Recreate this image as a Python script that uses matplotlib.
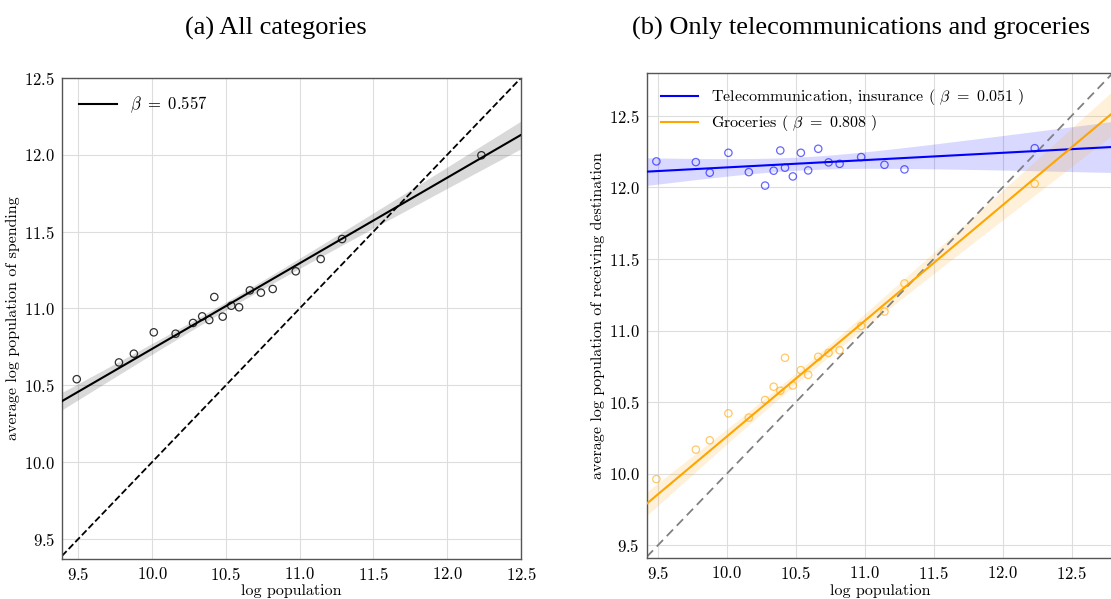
"""
Scaling of spending with population: all categories vs. two selected ones.
"""

import numpy as np
import matplotlib
matplotlib.use('Agg')
import matplotlib.pyplot as plt

plt.rcParams['font.family'] = 'serif'
plt.rcParams['font.serif'] = ['cmr10']
plt.rcParams['mathtext.fontset'] = 'cm'
plt.rcParams['axes.formatter.use_mathtext'] = True

# log population of the cities (same for both panels)
log_pop = [9.49, 9.776, 9.877, 10.012, 10.16, 10.278, 10.34, 10.388, 10.422, 10.479,
           10.537, 10.59, 10.663, 10.738, 10.818, 10.974, 11.143, 11.288, 12.232]

# (a) average log population of spending, all categories
all_cat = [10.54, 10.649, 10.706, 10.845, 10.836, 10.906, 10.949, 10.925, 11.075, 10.947,
           11.018, 11.008, 11.118, 11.103, 11.127, 11.242, 11.322, 11.452, 11.997]

# (b) telecommunication / insurance and groceries
telecom = [12.181, 12.176, 12.102, 12.241, 12.106, 12.012, 12.116, 12.257, 12.137, 12.076,
           12.241, 12.118, 12.269, 12.174, 12.164, 12.211, 12.157, 12.125, 12.273]
groceries = [9.963, 10.169, 10.234, 10.422, 10.392, 10.515, 10.608, 10.58, 10.81, 10.617,
             10.724, 10.691, 10.817, 10.844, 10.863, 11.032, 11.133, 11.329, 12.025]

# fitted scaling exponents (beta) and intercepts as shown in the figure
beta_all, icpt_all = 0.557, 5.167
beta_tel, icpt_tel = 0.051, 11.629
beta_gro, icpt_gro = 0.808, 2.18

ticks = [9.5, 10.0, 10.5, 11.0, 11.5, 12.0, 12.5]

fig = plt.figure(figsize=(11.11, 5.99), dpi=100)
ax1 = fig.add_axes([0.0558, 0.0668, 0.4131, 0.8030])
ax2 = fig.add_axes([0.5821, 0.0679, 0.4198, 0.8107])


def style_axes(ax):
    ax.grid(True, color='#dddddd', linewidth=0.8)
    ax.set_axisbelow(True)
    for s in ax.spines.values():
        s.set_color('#555555')
        s.set_linewidth(1.0)
    ax.tick_params(length=0, labelsize=12, pad=5)
    ax.set_xticks(ticks)
    ax.set_yticks(ticks)
    ax.set_xlabel('log population', fontsize=11.5, labelpad=1)


def fit_with_band(ax, x, y, beta, icpt, color, label, alpha_pts=1.0, z=2.1):
    # line with confidence band around the fitted relation
    x = np.asarray(x)
    y = np.asarray(y)
    n = len(x)
    resid = y - (icpt + beta * x)
    s = np.sqrt(np.sum(resid ** 2) / (n - 2))
    sxx = np.sum((x - x.mean()) ** 2)
    xs = np.linspace(*ax.get_xlim(), 100)
    ys = icpt + beta * xs
    half = z * s * np.sqrt(1 / n + (xs - x.mean()) ** 2 / sxx)
    ax.fill_between(xs, ys - half, ys + half, color=color, alpha=0.15, linewidth=0)
    ax.plot(xs, ys, color=color, linewidth=1.5, label=label, zorder=3)
    ax.scatter(x, y, s=28, facecolors='none', edgecolors=color, linewidths=0.9,
               alpha=alpha_pts, zorder=4)


# panel (a)
ax1.set_xlim(9.39, 12.5)
ax1.set_ylim(9.37, 12.5)
style_axes(ax1)
ax1.axline((10, 10), slope=1, color='k', linestyle='--', linewidth=1.3, zorder=2)
fit_with_band(ax1, log_pop, all_cat, beta_all, icpt_all, 'k',
              r'$\beta\ =\ 0.557$', alpha_pts=0.8)
ax1.set_ylabel('average log population of spending', fontsize=11.5, labelpad=3)
ax1.legend(loc='upper left', frameon=False, fontsize=12, handlelength=2.3,
           borderaxespad=0.6)

# panel (b)
ax2.set_xlim(9.42, 12.8)
ax2.set_ylim(9.41, 12.8)
style_axes(ax2)
ax2.spines['right'].set_visible(False)
ax2.axline((10, 10), slope=1, color='gray', linestyle='--', linewidth=1.3,
           dashes=(5, 3), zorder=2)
fit_with_band(ax2, log_pop, telecom, beta_tel, icpt_tel, 'blue',
              r'Telecommunication, insurance ( $\beta\ =\ 0.051$ )', alpha_pts=0.6,
              z=2.8)
fit_with_band(ax2, log_pop, groceries, beta_gro, icpt_gro, 'orange',
              r'Groceries ( $\beta\ =\ 0.808$ )', alpha_pts=0.6)
ax2.set_ylabel('average log population of receiving destination', fontsize=11.5,
               labelpad=3)
ax2.legend(loc='upper left', frameon=False, fontsize=11.5, handlelength=2.3,
           borderaxespad=0.5, labelspacing=0.4)

fig.text(0.2484, 0.953, '(a) All categories', ha='center', va='center',
         family='Liberation Serif', fontsize=19)
fig.text(0.775, 0.953, '(b) Only telecommunications and groceries', ha='center',
         va='center', family='Liberation Serif', fontsize=19)

fig.savefig('out.png', dpi=100)
